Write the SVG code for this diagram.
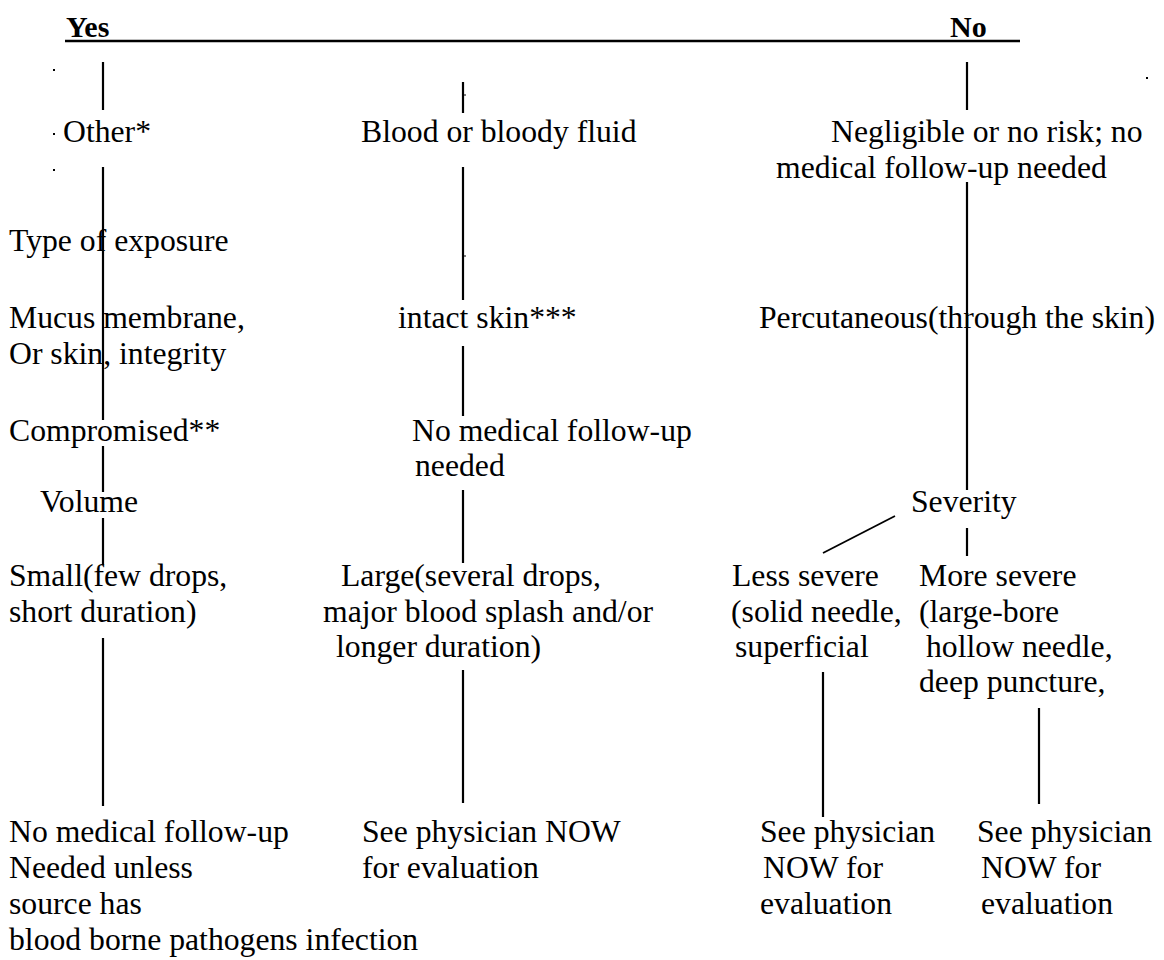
<svg xmlns="http://www.w3.org/2000/svg" width="1164" height="960" viewBox="0 0 1164 960">
<style>
text{font-family:"Liberation Serif","Times New Roman",serif;font-size:31.7px;fill:#000}
.b{font-weight:bold;font-size:30px}
.c line{stroke:#000;stroke-width:2.2}
.d{fill:#000}
</style>
<rect width="1164" height="960" fill="#fff"/>
<g id="connectors" class="c">
<line x1="65" y1="41" x2="1020" y2="41" style="stroke-width:2.6"/>
<line x1="103" y1="62" x2="103" y2="110"/>
<line x1="103" y1="167" x2="103" y2="420"/>
<line x1="103" y1="446" x2="103" y2="492"/>
<line x1="103" y1="518" x2="103" y2="565"/>
<line x1="103" y1="638" x2="103" y2="806"/>
<line x1="463" y1="82" x2="463" y2="113"/>
<line x1="463" y1="95" x2="466" y2="95" style="stroke-width:1"/>
<line x1="463" y1="167" x2="463" y2="300"/>
<line x1="463" y1="256" x2="466" y2="256" style="stroke-width:1"/>
<line x1="463" y1="346" x2="463" y2="416"/>
<line x1="463" y1="490" x2="463" y2="563"/>
<line x1="463" y1="670" x2="463" y2="803"/>
<line x1="967" y1="62" x2="967" y2="110"/>
<line x1="967" y1="182" x2="967" y2="490"/>
<line x1="967" y1="528" x2="967" y2="556"/>
<line x1="895" y1="516" x2="823" y2="553" style="stroke-width:1.8"/>
<line x1="823" y1="672" x2="823" y2="817"/>
<line x1="1039" y1="708" x2="1039" y2="804"/>
</g>
<g id="dots">
<rect class="d" x="53" y="69" width="2" height="2"/>
<rect class="d" x="53" y="133" width="2" height="2"/>
<rect class="d" x="53" y="169" width="2" height="2"/>
<rect class="d" x="1146" y="77" width="2" height="2"/>
</g>
<g id="yes"><text class="b" x="66" y="37">Yes</text></g>
<g id="no"><text class="b" x="950" y="37">No</text></g>
<g id="other"><text x="63" y="142">Other*</text></g>
<g id="blood"><text x="361" y="142">Blood or bloody fluid</text></g>
<g id="negligible"><text x="831" y="142">Negligible or no risk; no</text><text x="776" y="178">medical follow-up needed</text></g>
<g id="type"><text x="9" y="251">Type of exposure</text></g>
<g id="mucus"><text x="9" y="328">Mucus membrane,</text><text x="9" y="364">Or skin, integrity</text></g>
<g id="intact"><text x="398" y="328">intact skin***</text></g>
<g id="percutaneous"><text x="759" y="328">Percutaneous(through the skin)</text></g>
<g id="compromised"><text x="9" y="441">Compromised**</text></g>
<g id="nofollow1"><text x="412" y="441">No medical follow-up</text><text x="415" y="476">needed</text></g>
<g id="volume"><text x="40" y="512">Volume</text></g>
<g id="severity"><text x="911" y="512">Severity</text></g>
<g id="small"><text x="9" y="586">Small(few drops,</text><text x="9" y="622">short duration)</text></g>
<g id="large"><text x="341" y="586">Large(several drops,</text><text x="323" y="622">major blood splash and/or</text><text x="336" y="657">longer duration)</text></g>
<g id="less"><text x="732" y="586">Less severe</text><text x="731" y="622">(solid needle,</text><text x="735" y="657">superficial</text></g>
<g id="more"><text x="919" y="586">More severe</text><text x="919" y="622">(large-bore</text><text x="926" y="657">hollow needle,</text><text x="919" y="692">deep puncture,</text></g>
<g id="nofollow2"><text x="9" y="842">No medical follow-up</text><text x="9" y="878">Needed unless</text><text x="9" y="914">source has</text><text x="9" y="950">blood borne pathogens infection</text></g>
<g id="see1"><text x="362" y="842">See physician NOW</text><text x="362" y="878">for evaluation</text></g>
<g id="see2"><text x="760" y="842">See physician</text><text x="763" y="878">NOW for</text><text x="760" y="914">evaluation</text></g>
<g id="see3"><text x="977" y="842">See physician</text><text x="981" y="878">NOW for</text><text x="981" y="914">evaluation</text></g>
</svg>
